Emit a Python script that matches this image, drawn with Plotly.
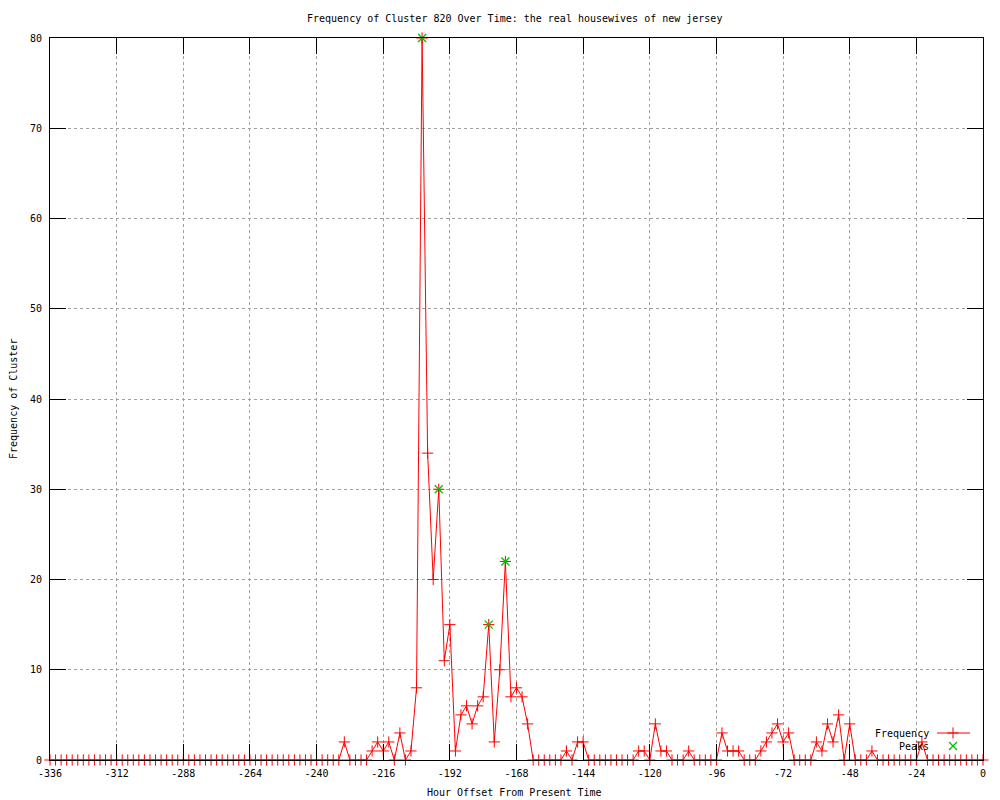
import plotly.graph_objects as go

# ---- data ----
hours = list(range(-336, 1, 2))
freq = (
    [0] * 53 +                                   # -336 .. -232
    [2, 0, 0, 0, 0, 1, 2, 1, 2, 0, 3, 0, 1, 8,   # -230 .. -204
     80, 34, 20, 30, 11, 15, 1, 5, 6, 4, 6, 7,   # -202 .. -180
     15, 2, 10, 22, 7, 8, 7, 4] +                # -178 .. -164
    [0] * 6 +                                    # -162 .. -152
    [1, 0, 2, 2] +                               # -150 .. -144
    [0] * 9 +                                    # -142 .. -126
    [1, 1, 0, 4, 1, 1, 0, 0, 0, 1] +             # -124 .. -106
    [0] * 5 +                                    # -104 .. -96
    [3, 1, 1, 1, 0, 0, 0, 1, 2, 3, 4, 2, 3] +    # -94 .. -70
    [0] * 4 +                                    # -68 .. -62
    [2, 1, 4, 2, 5, 0, 4, 0, 0, 0, 1] +          # -60 .. -40
    [0] * 8 +                                    # -38 .. -24
    [2] +                                        # -22
    [0] * 11                                     # -20 .. 0
)
peak_hours = [-202, -196, -178, -172]
peak_values = [80, 30, 15, 22]

x_tickvals = list(range(-336, 1, 24))
x_ticktext = [str(v) for v in x_tickvals]
y_tickvals = list(range(0, 81, 10))
y_ticktext = [str(v) for v in y_tickvals]

title_text = "Frequency of Cluster 820 Over Time: the real housewives of new jersey"
x_title = "Hour Offset From Present Time"
y_title = "Frequency of Cluster"
legend_names = ["Frequency", "Peaks"]

RED = "#ff0000"
GREEN = "#00c000"
FONT = dict(family="DejaVu Sans Mono", size=10, color="black")

W, H = 1000, 800
L, R, T, B = 50, 17, 38, 40

fig = go.Figure()
fig.add_trace(go.Scatter(
    x=hours, y=freq, mode="lines+markers", name=legend_names[0],
    line=dict(color=RED, width=1),
    marker=dict(symbol="cross-thin-open", size=8, color=RED,
                line=dict(color=RED, width=1)),
    showlegend=False, cliponaxis=False,
))
fig.add_trace(go.Scatter(
    x=peak_hours, y=peak_values, mode="markers", name=legend_names[1],
    marker=dict(symbol="x-thin-open", size=8, color=GREEN,
                line=dict(color=GREEN, width=1.3)),
    showlegend=False, cliponaxis=False,
))

# legend keys (gnuplot style: text on the left, sample on the right)
def px_to_paper_x(px):
    return (px - L) / (W - L - R)

def px_to_paper_y(py):
    return 1 - (py - T) / (H - T - B)

leg_y = [733, 746]
fig.add_trace(go.Scatter(
    x=[px_to_paper_x(953)], y=[px_to_paper_y(leg_y[0])], mode="markers",
    xaxis="x2", yaxis="y2", showlegend=False, hoverinfo="skip",
    marker=dict(symbol="cross-thin-open", size=8, color=RED,
                line=dict(color=RED, width=1)),
))
fig.add_trace(go.Scatter(
    x=[px_to_paper_x(953)], y=[px_to_paper_y(leg_y[1])], mode="markers",
    xaxis="x2", yaxis="y2", showlegend=False, hoverinfo="skip",
    marker=dict(symbol="x-thin-open", size=8, color=GREEN,
                line=dict(color=GREEN, width=1.3)),
))

shapes = [dict(type="line", xref="paper", yref="paper",
               x0=px_to_paper_x(937), x1=px_to_paper_x(970),
               y0=px_to_paper_y(leg_y[0]), y1=px_to_paper_y(leg_y[0]),
               line=dict(color=RED, width=1))]

annotations = [
    dict(text=title_text, xref="paper", yref="paper",
         x=px_to_paper_x(514.5), y=px_to_paper_y(18), showarrow=False,
         xanchor="center", yanchor="middle", font=FONT),
    dict(text=x_title, xref="paper", yref="paper",
         x=px_to_paper_x(514.5), y=px_to_paper_y(793), showarrow=False,
         xanchor="center", yanchor="middle", font=FONT),
    dict(text=y_title, xref="paper", yref="paper",
         x=px_to_paper_x(13), y=px_to_paper_y(399), showarrow=False,
         xanchor="center", yanchor="middle", textangle=-90, font=FONT),
]
for name, yy in zip(legend_names, leg_y):
    annotations.append(dict(text=name, xref="paper", yref="paper",
                            x=px_to_paper_x(931), y=px_to_paper_y(yy),
                            showarrow=False, xanchor="right", yanchor="middle",
                            font=FONT))

fig.update_layout(
    width=W, height=H,
    margin=dict(l=L, r=R, t=T, b=B, pad=0),
    paper_bgcolor="white", plot_bgcolor="white",
    font=FONT,
    showlegend=False,
    shapes=shapes, annotations=annotations,
    xaxis=dict(range=[-336, 0], tickmode="array", tickvals=x_tickvals,
               ticktext=x_ticktext, ticks="inside", ticklen=16, tickwidth=1,
               tickcolor="black", showline=True, linecolor="black", linewidth=1,
               mirror="ticks", showgrid=True, gridcolor="#a0a0a0",
               griddash="dot", gridwidth=1, zeroline=False,
               ticklabelstandoff=4, tickfont=FONT),
    yaxis=dict(range=[0, 80], tickmode="array", tickvals=y_tickvals,
               ticktext=y_ticktext, ticks="inside", ticklen=16, tickwidth=1,
               tickcolor="black", showline=True, linecolor="black", linewidth=1,
               mirror="ticks", showgrid=True, gridcolor="#a0a0a0",
               griddash="dot", gridwidth=1, zeroline=False,
               ticklabelstandoff=5, tickfont=FONT),
    xaxis2=dict(range=[0, 1], overlaying="x", visible=False, fixedrange=True),
    yaxis2=dict(range=[0, 1], overlaying="y", visible=False, fixedrange=True),
)

fig.write_html("out.html", config={"displayModeBar": False},
               post_script="document.body.style.margin='0';document.body.style.padding='0';")
